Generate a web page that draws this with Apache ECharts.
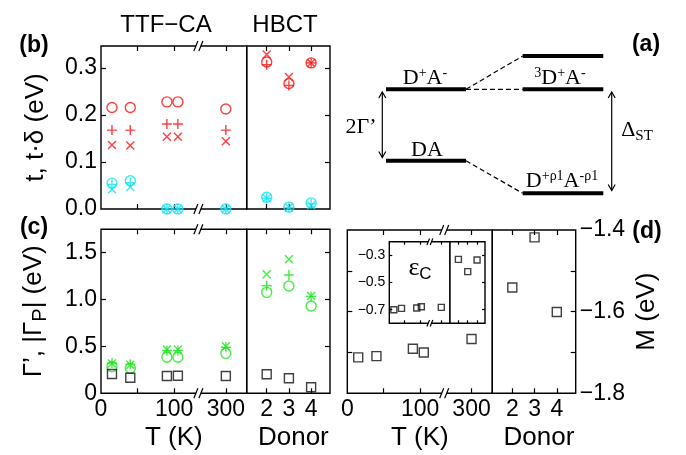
<!DOCTYPE html>
<html><head><meta charset="utf-8">
<script src="https://cdn.jsdelivr.net/npm/echarts@6/dist/echarts.min.js"></script>
<style>html,body{margin:0;padding:0;background:#fff}#c{width:686px;height:455px}</style>
</head><body><div id="c"></div>
<script>
// ---------------- data ----------------
const tempK = [15, 40, 90, 105, 300];
const donorIdx = [2, 3, 4];
// (b) t, t·delta
const bTRedCircle = [0.216, 0.216, 0.228, 0.228, 0.213];
const bTRedPlus   = [0.168, 0.168, 0.181, 0.181, 0.168];
const bTRedCross  = [0.136, 0.135, 0.154, 0.154, 0.144];
const bTCyanCircle = [0.055, 0.060, 0.000, 0.000, 0.000];
const bTCyanPlus   = [0.052, 0.056, 0.000, 0.000, 0.000];
const bTCyanCross  = [0.042, 0.047, 0.000, 0.000, 0.000];
const bDRedCircle = [0.313, 0.267, 0.311];
const bDRedPlus   = [0.307, 0.263, 0.311];
const bDRedCross  = [0.329, 0.281, 0.311];
const bDCyanCircle = [0.025, 0.004, 0.013];
const bDCyanPlus   = [0.023, 0.003, 0.011];
const bDCyanCross  = [0.023, 0.003, 0.008];
// (c) Gamma', |Gamma_P|
const cTGreenCircle = [0.283, 0.266, 0.383, 0.383, 0.425];
const cTGreenPlus   = [0.322, 0.310, 0.455, 0.455, 0.490];
const cTGreenCross  = [0.318, 0.305, 0.465, 0.465, 0.500];
const cTSquare      = [0.205, 0.166, 0.184, 0.187, 0.184];
const cDGreenCircle = [1.074, 1.141, 0.929];
const cDGreenPlus   = [1.145, 1.258, 1.030];
const cDGreenCross  = [1.266, 1.426, 1.035];
const cDSquare      = [0.202, 0.160, 0.064];
// (d) M and inset eps_C
const dTM = [-1.712, -1.709, -1.691, -1.700, -1.667];
const dDM = [-1.541, -1.418, -1.601];
const eTEps = [-0.700, -0.690, -0.687, -0.678, -0.683];
const eDEps = [-0.330, -0.420, -0.335];
// ticks / labels
const tTickVals = [50, 100, 300];
const tLabelVals = [0, 100, 300];
const donorTicks = [2, 3, 4];
const bTicks = [0.1, 0.2, 0.3], bLabels = [0, 0.1, 0.2, 0.3];
const cTicks = [0.5, 1.0, 1.5], cLabels = [0, 0.5, 1.0, 1.5];
const dTicks = [-1.7, -1.6, -1.5], dLabels = [-1.8, -1.6, -1.4];
const eTicks = [-0.7, -0.5, -0.3], eLabels = [-0.7, -0.5, -0.3];

// broken temperature axis: 0..~130 K linear, then jump to 300 K region
const SHIFT = 129.5;
const brk = T => (T <= 150 ? T : T - SHIFT);
const unbrk = v => (v <= 150 ? Math.round(v) : Math.round(v + SHIFT));
const BREAK_AT = 133;

const SANS = "'Liberation Sans', Arial, Helvetica, sans-serif";
const SERIF = "'Liberation Serif', 'Times New Roman', serif";
const RED = '#ff1010', CYAN = '#12e2f2', GREEN = '#19e619', BLACK = '#111';
const PLUS = 'path://M5,0L5,10M0,5L10,5';
const CROSS = 'path://M0,0L10,10M10,0L0,10';
const minus = s => String(s).replace('-', '\u2212');
const TICKFONT = 23, NAMEFONT = 26;

// ---------------- layout ----------------
const G = [
  {left: 101,   top: 46,    width: 145.7, height: 163},   // 0 b T
  {left: 246.7, top: 46,    width: 83.3,  height: 163},   // 1 b donor
  {left: 101,   top: 229.3, width: 145.7, height: 164},   // 2 c T
  {left: 246.7, top: 229.3, width: 83.3,  height: 164},   // 3 c donor
  {left: 347.3, top: 230,   width: 145,   height: 163.3}, // 4 d T
  {left: 492.3, top: 230,   width: 83.4,  height: 163.3}, // 5 d donor
  {left: 389.3, top: 241.7, width: 60.7,  height: 81.6},  // 6 inset T
  {left: 450,   top: 241.7, width: 35,    height: 81.6}   // 7 inset donor
];
const kinds = ['T','D','T','D','T','D','T','D'];
const grids = G.map((g, i) => Object.assign({show: true, borderColor: '#000', borderWidth: 1.4,
  backgroundColor: i >= 6 ? '#fff' : 'transparent', containLabel: false}, g));

const xAxes = [];
G.forEach((g, i) => {
  const inset = i >= 6;
  const tl = inset ? 3 : 5;
  ['bottom', 'top'].forEach(pos => {
    const showLab = pos === 'bottom' && (i >= 2 && i <= 5);
    const isT = kinds[i] === 'T';
    const ax = {
      type: 'value', gridIndex: i, position: pos,
      min: isT ? 0 : 1.1, max: isT ? 199 : 4.85,
      axisLine: {show: false}, splitLine: {show: false},
      axisTick: {show: true, inside: true, length: tl,
        customValues: isT ? tTickVals.map(brk) : donorTicks,
        lineStyle: {color: '#000', width: 1.2}},
      axisLabel: {show: showLab, margin: 5, color: '#000', fontFamily: SANS, fontSize: TICKFONT,
        customValues: isT ? tLabelVals.map(brk) : donorTicks,
        formatter: v => isT ? String(unbrk(v)) : String(v)}
    };
    if (showLab) {
      ax.name = isT ? 'T (K)' : 'Donor';
      ax.nameLocation = 'middle';
      ax.nameGap = 32;
      ax.nameTextStyle = {fontFamily: SANS, fontSize: NAMEFONT, color: '#000',
        padding: isT ? [0, 0, 0, 0] : [0, 0, 0, 10]};
    }
    xAxes.push(ax);
  });
});

const yCfg = [
  {min: 0, max: 0.347, ticks: bTicks, labels: bLabels, fmt: v => v.toFixed(1)},
  {min: 0, max: 1.745, ticks: cTicks, labels: cLabels, fmt: v => (v === 0 ? '0' : v.toFixed(1))},
  {min: -1.8, max: -1.4, ticks: dTicks, labels: dLabels, fmt: v => minus(v.toFixed(1))},
  {min: -0.8, max: -0.2, ticks: eTicks, labels: eLabels, fmt: v => minus(v.toFixed(1))}
];
const yAxes = G.map((g, i) => {
  const c = yCfg[Math.floor(i / 2)];
  const isT = kinds[i] === 'T';
  const inset = i >= 6;
  const showLab = i === 0 || i === 2 || i === 5 || i === 6;
  const ax = {
    type: 'value', gridIndex: i, position: isT ? 'left' : 'right',
    min: c.min, max: c.max,
    axisLine: {show: false}, splitLine: {show: false},
    axisTick: {show: true, inside: true, length: inset ? 3 : 5, customValues: c.ticks,
      lineStyle: {color: '#000', width: 1.2}},
    axisLabel: {show: showLab, margin: inset ? 4 : 4, color: '#000', fontFamily: SANS,
      fontSize: inset ? 14 : TICKFONT, customValues: c.labels, formatter: c.fmt}
  };
  if (i === 0) {
    Object.assign(ax, {name: 't, t\u00b7\u03b4 (eV)', nameLocation: 'middle', nameRotate: 90, nameGap: 52,
      nameTextStyle: {fontFamily: SANS, fontSize: NAMEFONT, color: '#000'}});
  }
  if (i === 2) {
    Object.assign(ax, {name: '\u0393\u2019, |\u0393{s|P}| (eV)', nameLocation: 'middle', nameRotate: 90, nameGap: 51,
      nameTextStyle: {fontFamily: SANS, fontSize: NAMEFONT, color: '#000',
        rich: {s: {fontFamily: SANS, fontSize: 20, color: '#000', verticalAlign: 'bottom', padding: [12, 0, 0, 0]}}}});
  }
  if (i === 5) {
    Object.assign(ax, {name: 'M (eV)', nameLocation: 'middle', nameRotate: 90, nameGap: 58,
      nameTextStyle: {fontFamily: SANS, fontSize: NAMEFONT, color: '#000'}});
  }
  return ax;
});

function sc(g, xs, ys, sym, size, color) {
  const isT = kinds[g] === 'T';
  return {
    type: 'scatter', xAxisIndex: 2 * g, yAxisIndex: g, silent: true,
    data: xs.map((x, i) => [isT ? brk(x) : x, ys[i]]),
    symbol: sym, symbolSize: size, symbolKeepAspect: true,
    itemStyle: {color: 'transparent', borderColor: color, borderWidth: 1.4}
  };
}
const series = [
  sc(0, tempK, bTRedCircle, 'circle', 10, RED),
  sc(0, tempK, bTRedPlus, PLUS, 10, RED),
  sc(0, tempK, bTRedCross, CROSS, 8, RED),
  sc(0, tempK, bTCyanCircle, 'circle', 10, CYAN),
  sc(0, tempK, bTCyanPlus, PLUS, 10, CYAN),
  sc(0, tempK, bTCyanCross, CROSS, 8, CYAN),
  sc(1, donorIdx, bDRedCircle, 'circle', 10, RED),
  sc(1, donorIdx, bDRedPlus, PLUS, 10, RED),
  sc(1, donorIdx, bDRedCross, CROSS, 8, RED),
  sc(1, donorIdx, bDCyanCircle, 'circle', 10, CYAN),
  sc(1, donorIdx, bDCyanPlus, PLUS, 10, CYAN),
  sc(1, donorIdx, bDCyanCross, CROSS, 8, CYAN),
  sc(2, tempK, cTGreenCircle, 'circle', 10, GREEN),
  sc(2, tempK, cTGreenPlus, PLUS, 10, GREEN),
  sc(2, tempK, cTGreenCross, CROSS, 8, GREEN),
  sc(2, tempK, cTSquare, 'rect', 9, BLACK),
  sc(3, donorIdx, cDGreenCircle, 'circle', 10, GREEN),
  sc(3, donorIdx, cDGreenPlus, PLUS, 10, GREEN),
  sc(3, donorIdx, cDGreenCross, CROSS, 8, GREEN),
  sc(3, donorIdx, cDSquare, 'rect', 9, BLACK),
  sc(4, tempK, dTM, 'rect', 9, BLACK),
  sc(5, donorIdx, dDM, 'rect', 9, BLACK),
  sc(6, tempK, eTEps, 'rect', 6, BLACK),
  sc(7, donorIdx, eDEps, 'rect', 6, BLACK)
];

// ---------------- decorations ----------------
function txt(x, y, text, font, opts) {
  return Object.assign({type: 'text', x: x, y: y, z: 120,
    style: Object.assign({text: text, font: font, fill: '#000',
      align: 'center', verticalAlign: 'middle', textAlign: 'center', textVerticalAlign: 'middle'}, opts || {})});
}
function ln(x1, y1, x2, y2, w, dash) {
  return {type: 'line', z: 110, shape: {x1, y1, x2, y2},
    style: {stroke: '#000', lineWidth: w, lineDash: dash || null}};
}
function arrow(x, yTop, yBot) {
  return [
    ln(x, yTop, x, yBot, 1.2),
    {type: 'polyline', z: 110, shape: {points: [[x - 3.5, yTop + 6], [x, yTop], [x + 3.5, yTop + 6]]}, style: {stroke: '#000', lineWidth: 1.2, fill: null}},
    {type: 'polyline', z: 110, shape: {points: [[x - 3.5, yBot - 6], [x, yBot], [x + 3.5, yBot - 6]]}, style: {stroke: '#000', lineWidth: 1.2, fill: null}}
  ];
}
const richSerif = {
  a: {fontFamily: SERIF, fontSize: 22, color: '#000'},
  sup: {fontFamily: SERIF, fontSize: 14, color: '#000', verticalAlign: 'top', padding: [0, 0, 9, 0]},
  sub: {fontFamily: SERIF, fontSize: 15, color: '#000', verticalAlign: 'bottom', padding: [12, 0, 0, 0]}
};
const B = 'bold 23px ' + SANS;
const staticGraphic = [
  txt(34, 46, '(b)', B), txt(34, 228, '(c)', B), txt(647, 232, '(d)', B), txt(646, 45, '(a)', B),
  txt(166, 25, 'TTF\u2212CA', '24px ' + SANS), txt(285, 25, 'HBCT', '24px ' + SANS),
  // inset label
  txt(420, 268, '{e|\u03b5}{c|C}', '22px ' + SERIF, {rich: {
    e: {fontFamily: SERIF, fontSize: 26, color: '#000'},
    c: {fontFamily: SANS, fontSize: 17, color: '#000', verticalAlign: 'bottom', padding: [12, 0, 0, 0]}}}),
  // diagram (a)
  ln(386, 89.3, 466, 89.3, 4), ln(386, 160.7, 466, 160.7, 4),
  ln(522.7, 56, 603.3, 56, 4), ln(522.7, 89.3, 603.3, 89.3, 4), ln(522.7, 193.3, 603.3, 193.3, 4),
  ln(466, 89.3, 522.7, 56, 1.2, [5, 3]), ln(466, 89.3, 522.7, 89.3, 1.2, [5, 3]),
  ln(466, 160.7, 522.7, 193.3, 1.2, [5, 3]),
  ...arrow(382.3, 92, 157.5), ...arrow(611.7, 92, 190.5),
  txt(425, 78, '{a|D}{sup|+}{a|A}{sup|-}', '22px ' + SERIF, {rich: richSerif}),
  txt(427, 150, '{a|DA}', '22px ' + SERIF, {rich: richSerif}),
  txt(560, 78, '{sup|3}{a|D}{sup|+}{a|A}{sup|-}', '22px ' + SERIF, {rich: richSerif}),
  txt(562, 181, '{a|D}{sup|+\u03c11}{a|A}{sup|-\u03c11}', '22px ' + SERIF, {rich: richSerif}),
  txt(361, 127, '{a|2\u0393\u2019}', '22px ' + SERIF, {rich: richSerif}),
  txt(637, 130, '{a|\u0394}{sub|ST}', '22px ' + SERIF, {rich: richSerif})
];

const chart = echarts.init(document.getElementById('c'), null, {renderer: 'canvas'});
const option = {
  animation: false, backgroundColor: '#fff',
  grid: grids, xAxis: xAxes, yAxis: yAxes, series: series, graphic: staticGraphic
};
chart.setOption(option);

// break marks on the temperature axes
function breakMark(x, y, s) {
  return [
    {type: 'rect', z: 130, shape: {x: x - 2.5 * s, y: y - 2, width: 5 * s, height: 4}, style: {fill: '#fff'}},
    ln(x - 4.5 * s, y + 5 * s, x - 0.5 * s, y - 5 * s, 1.2),
    ln(x + 0.5 * s, y + 5 * s, x + 4.5 * s, y - 5 * s, 1.2)
  ].map(e => Object.assign(e, {z: e.z === 130 ? 130 : 131}));
}
const breaks = [];
[0, 2, 4, 6].forEach(i => {
  const x = chart.convertToPixel({xAxisIndex: 2 * i}, BREAK_AT);
  const s = i === 6 ? 0.65 : 1;
  breaks.push(...breakMark(x, G[i].top, s), ...breakMark(x, G[i].top + G[i].height, s));
});
chart.setOption({graphic: staticGraphic.concat(breaks)}, {replaceMerge: ['graphic']});
</script></body></html>
